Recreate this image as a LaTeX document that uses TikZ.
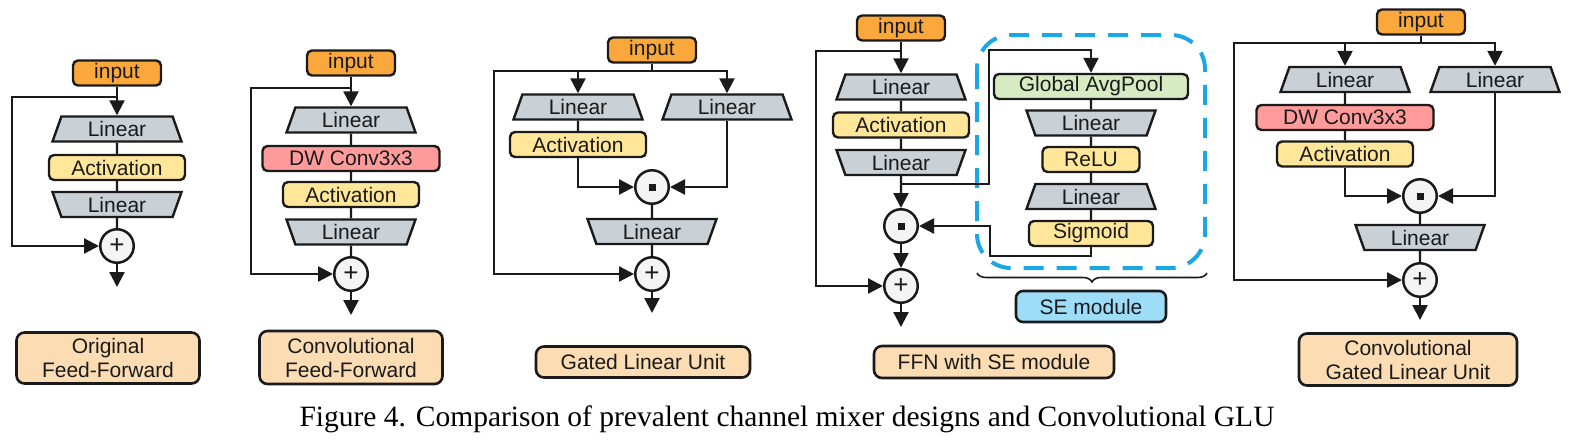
\documentclass[tikz,border=0pt]{standalone}
\usepackage{fontspec}
\setmainfont{Liberation Sans}
\newfontfamily\capfont{Liberation Serif}
\usetikzlibrary{shapes.geometric,arrows.meta,decorations.pathreplacing}
\definecolor{cin}{HTML}{FAA83C}
\definecolor{clin}{HTML}{C9D0D6}
\definecolor{cact}{HTML}{FFE699}
\definecolor{cdw}{HTML}{FF9B9B}
\definecolor{cgap}{HTML}{D6EBC2}
\definecolor{cse}{HTML}{9DDDF8}
\definecolor{clab}{HTML}{FCDCB2}
\definecolor{ccirc}{HTML}{F4F4F4}
\definecolor{cdash}{HTML}{1BA6E6}
\definecolor{bd}{HTML}{1A1A1A}
\tikzset{
 txt/.style={font=\fontsize{21}{24}\selectfont, text=bd},
 box/.style={txt, draw=bd, line width=2.4pt, rounded corners=5pt, inner sep=0pt, minimum height=25},
 inbox/.style={box, fill=cin, minimum width=88},
 actbox/.style={box, fill=cact, minimum width=136},
 dwbox/.style={box, fill=cdw, minimum width=177},
 gapbox/.style={box, fill=cgap, minimum width=194},
 relubox/.style={box, fill=cact, minimum width=97},
 sigbox/.style={box, fill=cact, minimum width=124},
 trap/.style={txt, trapezium, trapezium left angle=60, trapezium right angle=60,
   trapezium stretches body, minimum width=129, minimum height=25, inner sep=0pt,
   fill=clin, draw=bd, line width=2.4pt},
 trapup/.style={trap},
 trapdn/.style={trap, shape border rotate=180},
 op/.style={circle, draw=bd, fill=ccirc, line width=2.5pt, minimum size=33.5, inner sep=0pt,
   font=\fontsize{26}{26}\selectfont, text=bd},
 conn/.style={draw=bd, line width=2.3pt},
 arr/.style={conn, -{Triangle[length=15pt,width=15pt]}},
 lab/.style={txt, draw=bd, fill=clab, line width=2.6pt, rounded corners=8pt, align=center, inner sep=0pt},
 sebox/.style={txt, draw=bd, fill=cse, line width=2.6pt, rounded corners=7pt, inner sep=0pt, minimum width=150, minimum height=31},
 dashframe/.style={draw=cdash, line width=4pt, dash pattern=on 20pt off 13pt, rounded corners=34pt},
 bracestyle/.style={draw=bd, line width=1.6pt, decorate, decoration={brace, mirror, amplitude=9pt}},
}
\newcommand{\dotsym}{\rule{7pt}{7pt}}
\begin{document}
\begin{tikzpicture}[x=1pt,y=-1pt]
\useasboundingbox (0,0) rectangle (1569,445);
% ---------- Panel 1: Original Feed-Forward
\node[inbox] (in1) at (117,73) {input};
\node[trapup] (l1a) at (117,129) {Linear};
\node[actbox] (a1) at (117,167.5) {Activation};
\node[trapdn] (l1b) at (117,204.5) {Linear};
\node[op] (p1) at (117,246) {+};
\coordinate (s1) at (117,97);
\coordinate (k1) at (12,97);
\coordinate (o1) at (117,287);
\draw[arr] (in1) -- (l1a);
\draw[conn] (l1a) -- (a1) (a1) -- (l1b) (l1b) -- (p1);
\draw[arr] (s1) -- (k1) |- (p1);
\draw[arr] (p1) -- (o1);
% ---------- Panel 2: Convolutional Feed-Forward
\node[inbox] (in2) at (351,63) {input};
\node[trapup] (l2a) at (351,120) {Linear};
\node[dwbox] (d2) at (351,158.5) {DW Conv3x3};
\node[actbox] (a2) at (351,194.5) {Activation};
\node[trapdn] (l2b) at (351,232) {Linear};
\node[op] (p2) at (351,274) {+};
\coordinate (s2) at (351,88);
\coordinate (k2) at (251,88);
\coordinate (o2) at (351,315);
\draw[arr] (in2) -- (l2a);
\draw[conn] (l2a) -- (d2) (d2) -- (a2) (a2) -- (l2b) (l2b) -- (p2);
\draw[arr] (s2) -- (k2) |- (p2);
\draw[arr] (p2) -- (o2);
% ---------- Panel 3: Gated Linear Unit
\node[inbox] (in3) at (652,50) {input};
\node[trapup] (l3a) at (578,107) {Linear};
\node[trapup] (l3r) at (727,107) {Linear};
\node[actbox] (a3) at (578,144.5) {Activation};
\node[op] (x3) at (652,187) {\dotsym};
\node[trapdn] (l3b) at (652,231.5) {Linear};
\node[op] (p3) at (652,274) {+};
\coordinate (s3) at (652,71);
\coordinate (k3) at (494,71);
\coordinate (o3) at (652,313);
\draw[conn] (in3) -- (s3);
\draw[arr] (s3) -| (l3a);
\draw[arr] (s3) -| (l3r);
\draw[arr] (s3) -- (k3) |- (p3);
\draw[conn] (l3a) -- (a3);
\draw[arr] (a3) |- (x3);
\draw[arr] (l3r) |- (x3);
\draw[conn] (x3) -- (l3b) (l3b) -- (p3);
\draw[arr] (p3) -- (o3);
% ---------- Panel 4: FFN with SE module
\draw[dashframe] (977,35) rectangle (1205,268);
\node[inbox] (in4) at (901,28) {input};
\node[trapup] (l4a) at (901,87) {Linear};
\node[actbox] (a4) at (901,125) {Activation};
\node[trapdn] (l4b) at (901,162.5) {Linear};
\node[op] (x4) at (901,226) {\dotsym};
\node[op] (p4) at (901,286) {+};
\coordinate (s4) at (901,51);
\coordinate (k4) at (816,51);
\coordinate (j4) at (901,184);
\coordinate (c4) at (989,50);
\coordinate (c4b) at (990,256);
\coordinate (o4) at (901,327);
\node[gapbox] (gap) at (1091,86.5) {Global AvgPool};
\node[trapdn] (se1) at (1091,123) {Linear};
\node[relubox] (relu) at (1091,159.5) {ReLU};
\node[trapup] (se2) at (1091,196.5) {Linear};
\node[sigbox] (sig) at (1091,233.5) {Sigmoid};
\draw[arr] (in4) -- (l4a);
\draw[conn] (l4a) -- (a4) (a4) -- (l4b);
\draw[arr] (l4b) -- (x4);
\draw[arr] (x4) -- (p4);
\draw[arr] (s4) -- (k4) |- (p4);
\draw[arr] (p4) -- (o4);
\draw[arr] (j4) -| (c4) -| (gap);
\draw[conn] (gap) -- (se1) (se1) -- (relu) (relu) -- (se2) (se2) -- (sig);
\draw[arr] (sig) |- (c4b) |- (x4);
\coordinate (b1) at (977,273);
\coordinate (b2) at (1207,273);
\draw[bracestyle] (b1) -- (b2);
\node[sebox] (se) at (1091,306.5) {SE module};
% ---------- Panel 5: Convolutional GLU
\node[inbox] (in5) at (1421,22) {input};
\node[trapup] (l5a) at (1345,79.5) {Linear};
\node[trapup] (l5r) at (1495,79.5) {Linear};
\node[dwbox] (d5) at (1345,117.5) {DW Conv3x3};
\node[actbox] (a5) at (1345,154) {Activation};
\node[op] (x5) at (1420,196) {\dotsym};
\node[trapdn] (l5b) at (1420,237.5) {Linear};
\node[op] (p5) at (1420,280) {+};
\coordinate (s5) at (1421,43);
\coordinate (k5) at (1234,43);
\coordinate (o5) at (1420,320);
\draw[conn] (in5) -- (s5);
\draw[arr] (s5) -| (l5a);
\draw[arr] (s5) -| (l5r);
\draw[arr] (s5) -- (k5) |- (p5);
\draw[conn] (l5a) -- (d5) (d5) -- (a5);
\draw[arr] (a5) |- (x5);
\draw[arr] (l5r) |- (x5);
\draw[conn] (x5) -- (l5b) (l5b) -- (p5);
\draw[arr] (p5) -- (o5);
% ---------- Labels
\node[lab, minimum width=183, minimum height=51] (t1) at (108,358) {Original\\Feed-Forward};
\node[lab, minimum width=183, minimum height=53] (t2) at (351,357.5) {Convolutional\\Feed-Forward};
\node[lab, minimum width=214, minimum height=31] (t3) at (643,362) {Gated Linear Unit};
\node[lab, minimum width=240, minimum height=32] (t4) at (994,362) {FFN with SE module};
\node[lab, minimum width=218, minimum height=52] (t5) at (1408,359.5) {Convolutional\\Gated Linear Unit};
\node[font=\capfont\fontsize{29.5}{32}\selectfont, text=black, inner sep=0pt] (cap) at (787,419) {Figure 4. Comparison of prevalent channel mixer designs and Convolutional GLU};
\end{tikzpicture}
\end{document}
